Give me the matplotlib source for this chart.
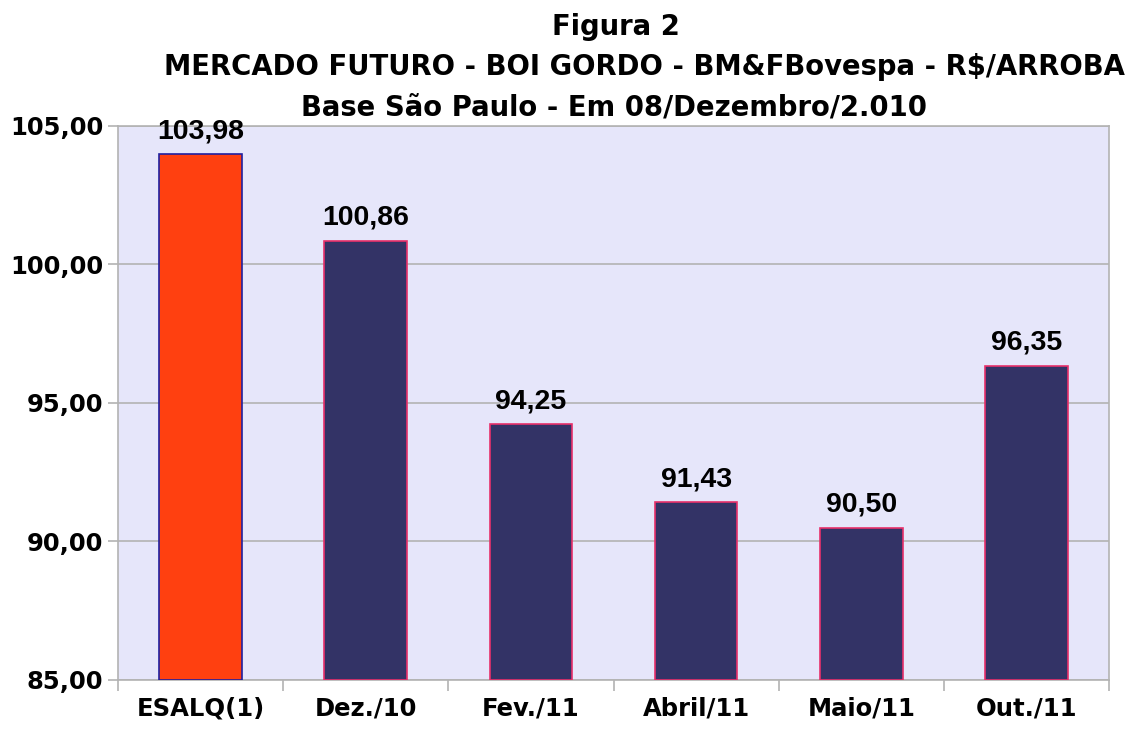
import matplotlib
matplotlib.use("Agg")
import matplotlib.pyplot as plt
from matplotlib import font_manager as fm
from matplotlib.ticker import FuncFormatter

categories = ["ESALQ(1)", "Dez./10", "Fev./11", "Abril/11", "Maio/11", "Out./11"]
values = [103.98, 100.86, 94.25, 91.43, 90.50, 96.35]
value_labels = ["103,98", "100,86", "94,25", "91,43", "90,50", "96,35"]
title_lines = ["Figura 2",
               "MERCADO FUTURO - BOI GORDO - BM&FBovespa - R$/ARROBA",
               "Base São Paulo - Em 08/Dezembro/2.010"]

# locate a regular-width bold Arial-like font
arial_bold = None
for f in fm.fontManager.ttflist:
    if f.name == "Liberation Sans" and "Narrow" not in f.fname and \
            "Bold" in f.fname and "Italic" not in f.fname:
        arial_bold = f.fname
        break
if arial_bold:
    val_fp = fm.FontProperties(fname=arial_bold, size=20.5)
else:
    val_fp = fm.FontProperties(family="DejaVu Sans", weight="bold", size=18)

fig = plt.figure(figsize=(11.33, 7.33), dpi=100)
ax = fig.add_axes([118/1133, 1-680/733, (1109-118)/1133, (680-126)/733])
ax.set_facecolor("#E6E6FA")

face = ["#FF4010"] + ["#333366"] * 5
edge = ["#2020A0"] + ["#E8306A"] * 5
x = list(range(len(categories)))
ax.bar(x, [v - 85 for v in values], bottom=85, width=0.5, color=face,
       edgecolor=edge, linewidth=1.2, zorder=3)

ax.set_xlim(-0.5, len(categories) - 0.5)
ax.set_ylim(85, 105)
ax.set_yticks([85, 90, 95, 100, 105])
ax.yaxis.set_major_formatter(FuncFormatter(lambda v, p: f"{v:.2f}".replace(".", ",")))
ax.grid(axis="y", color="#B3B3B3", linewidth=1.2, zorder=0)

ax.set_xticks([i - 0.5 for i in range(len(categories) + 1)], minor=False)
ax.set_xticklabels([])
ax.set_xticks(x, minor=True)
ax.set_xticklabels(categories, minor=True, fontfamily="DejaVu Sans",
                   fontweight="bold", fontsize=17.5)
ax.tick_params(axis="x", which="minor", length=0, pad=12)
ax.tick_params(axis="x", which="major", length=8, color="#B3B3B3", width=1.2)
ax.tick_params(axis="y", length=7, color="#B3B3B3", width=1.2, pad=3.5)
for lab in ax.get_yticklabels():
    lab.set_fontfamily("DejaVu Sans")
    lab.set_fontweight("bold")
    lab.set_fontsize(17.5)

for s in ax.spines.values():
    s.set_color("#B3B3B3")
    s.set_linewidth(1.2)

for xi, v, lab in zip(x, values, value_labels):
    ax.text(xi, v + 0.35, lab, ha="center", va="bottom",
            fontproperties=val_fp, zorder=4)

for t, cxp, yy in zip(title_lines, [616, 644, 614], [27, 67, 108]):
    fig.text(cxp / 1133, 1 - yy / 733, t, ha="center", va="center",
             fontsize=19.8, fontweight="bold", fontfamily="DejaVu Sans")

fig.savefig("out.png", dpi=100)
